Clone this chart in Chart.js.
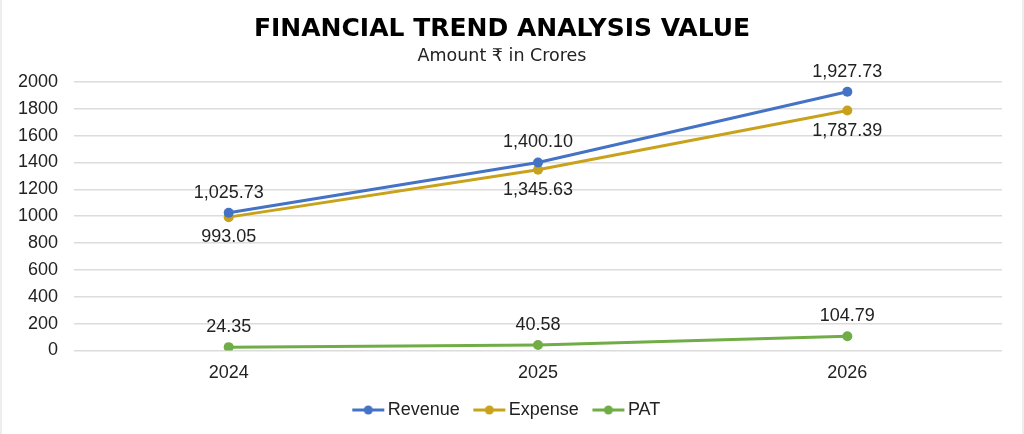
<!DOCTYPE html>
<html>
<head>
<meta charset="utf-8">
<script src="https://cdn.jsdelivr.net/npm/chart.js@4.4.1/dist/chart.umd.min.js"></script>
<style>
  html, body { margin: 0; padding: 0; background: #fff; }
  #wrap { width: 1024px; height: 434px; box-sizing: border-box; border-left: 2px solid #ededed; border-right: 2px solid #ededed; }
</style>
</head>
<body>
<div id="wrap"><canvas id="myChart" width="1020" height="434"></canvas></div>
<script>
// dati
var years = ["2024", "2025", "2026"];
var revenue = [1025.73, 1400.10, 1927.73];
var expense = [993.05, 1345.63, 1787.39];
var pat = [24.35, 40.58, 104.79];
var yTicks = [0, 200, 400, 600, 800, 1000, 1200, 1400, 1600, 1800, 2000];

var blue = '#4472C4';
var gold = '#C9A21B';
var green = '#70AD47';
var arial = '"Liberation Sans", Arial, sans-serif';

// marcatore della legenda: linea con pallino (spostato a destra per avvicinarlo al testo)
function legendMarker(color) {
	var c = document.createElement('canvas');
	c.width = 48; c.height = 12;
	var g = c.getContext('2d');
	g.strokeStyle = color;
	g.lineWidth = 3;
	g.beginPath(); g.moveTo(15, 6); g.lineTo(47, 6); g.stroke();
	g.fillStyle = color;
	g.beginPath(); g.arc(31, 6, 4.5, 0, Math.PI * 2); g.fill();
	return c;
}

// etichette dei valori sopra/sotto i punti
var valueLabels = {
	id: 'valueLabels',
	afterDatasetsDraw(chart) {
		const ctx = chart.ctx;
		ctx.save();
		ctx.font = '18px ' + arial;
		ctx.fillStyle = '#222';
		ctx.textAlign = 'center';
		ctx.textBaseline = 'middle';
		chart.data.datasets.forEach((ds, i) => {
			const meta = chart.getDatasetMeta(i);
			meta.data.forEach((pt, j) => {
				let txt = ds.data[j].toLocaleString('en-US', {minimumFractionDigits: 2, maximumFractionDigits: 2});
				let dy = ds.labelPos == 'below' ? 20 : -20;
				ctx.fillText(txt, pt.x, pt.y + dy);
			});
		});
		ctx.restore();
	}
};

Chart.defaults.font.family = arial;

const ctx = document.getElementById('myChart').getContext('2d');
var myChart = new Chart(ctx, {
	type: 'line',
	data: {
		labels: years,
		datasets: [{
			label: 'Revenue',
			data: revenue,
			borderColor: blue,
			backgroundColor: blue,
			borderWidth: 3,
			pointRadius: 5,
			pointBorderWidth: 0,
			pointHoverRadius: 5,
			labelPos: 'above',
			marker: legendMarker(blue)
		}, {
			label: 'Expense',
			data: expense,
			borderColor: gold,
			backgroundColor: gold,
			borderWidth: 3,
			pointRadius: 5,
			pointBorderWidth: 0,
			pointHoverRadius: 5,
			labelPos: 'below',
			marker: legendMarker(gold)
		}, {
			label: 'PAT',
			data: pat,
			borderColor: green,
			backgroundColor: green,
			borderWidth: 3,
			pointRadius: 5,
			pointBorderWidth: 0,
			pointHoverRadius: 5,
			labelPos: 'above',
			marker: legendMarker(green)
		}]
	},
	options: {
		responsive: false,
		animation: false,
		layout: { padding: { left: 0, right: 20, top: 8, bottom: 5 } },
		scales: {
			x: {
				offset: true,
				grid: { display: false, drawTicks: false },
				border: { display: false },
				ticks: { color: '#222', padding: 12, font: { size: 18 } }
			},
			y: {
				min: 0,
				max: 2000,
				afterBuildTicks: (axis) => { axis.ticks = yTicks.map(v => ({ value: v })); },
				grid: { color: '#dcdcdc', lineWidth: 1.5, drawTicks: false },
				border: { display: false },
				ticks: { color: '#222', padding: 16, font: { size: 18 }, callback: (v) => String(v) }
			}
		},
		plugins: {
			title: {
				display: true,
				text: 'FINANCIAL TREND ANALYSIS VALUE',
				color: '#000',
				font: { size: 25, weight: 'bold', family: '"DejaVu Sans", sans-serif' },
				padding: { top: 6, bottom: 2 }
			},
			subtitle: {
				display: true,
				text: 'Amount ₹ in Crores',
				color: '#222',
				font: { size: 17.5, family: '"DejaVu Sans", sans-serif' },
				padding: { top: 0, bottom: 15 }
			},
			legend: {
				position: 'bottom',
				labels: {
					usePointStyle: true,
					pointStyleWidth: 35,
					color: '#222',
					font: { size: 18 },
					padding: 5,
					generateLabels: (chart) => chart.data.datasets.map((ds, i) => ({
						text: ds.label,
						fontColor: '#222',
						pointStyle: ds.marker,
						datasetIndex: i,
						lineWidth: 0,
						strokeStyle: ds.borderColor,
						fillStyle: ds.borderColor
					}))
				}
			},
			tooltip: { enabled: false }
		}
	},
	plugins: [valueLabels]
});
</script>
</body>
</html>
